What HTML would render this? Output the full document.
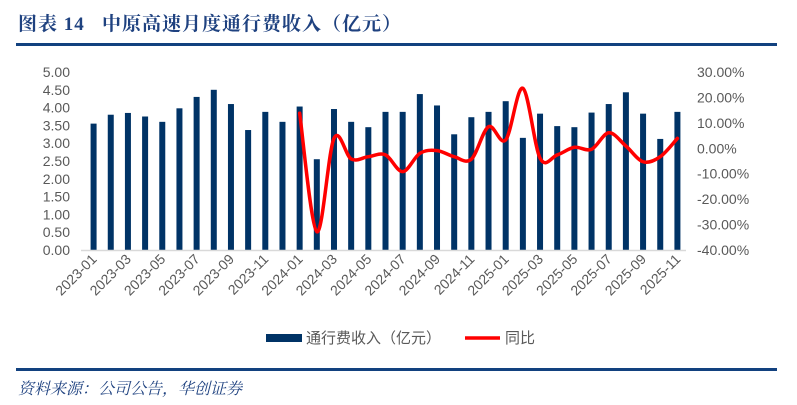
<!DOCTYPE html>
<html><head><meta charset="utf-8"><style>
body{margin:0;width:797px;height:405px;background:#fff;overflow:hidden;position:relative;font-family:"Liberation Sans","Noto Sans CJK SC",sans-serif}
.title{position:absolute;left:18px;top:9px;font-family:"Liberation Serif","Noto Serif CJK SC",serif;font-weight:bold;font-size:19px;color:#1f4280;letter-spacing:1px;white-space:pre}
.rule{position:absolute;left:16px;width:761px;height:3px;background:#12417f}
.src{position:absolute;left:18px;top:376px;font-size:16px;font-style:italic;color:#1f4280;font-family:"Liberation Serif","Noto Serif CJK SC",serif}
svg{position:absolute;left:0;top:0}
</style></head><body>
<div class="title">图表 14   中原高速月度通行费收入（亿元）</div>
<div class="rule" style="top:43px"></div>
<div class="rule" style="top:368px"></div>
<div class="src">资料来源：公司公告，华创证券</div>
<svg id="c" width="797" height="405"></svg>
<script>
const categories=['2023-01','2023-02','2023-03','2023-04','2023-05','2023-06','2023-07','2023-08','2023-09','2023-10','2023-11','2023-12','2024-01','2024-02','2024-03','2024-04','2024-05','2024-06','2024-07','2024-08','2024-09','2024-10','2024-11','2024-12','2025-01','2025-02','2025-03','2025-04','2025-05','2025-06','2025-07','2025-08','2025-09','2025-10','2025-11'];
const revenue=[3.55,3.8,3.85,3.75,3.6,3.98,4.3,4.5,4.1,3.37,3.88,3.6,4.03,2.55,3.96,3.6,3.45,3.88,3.88,4.38,4.06,3.25,3.73,3.88,4.18,3.15,3.83,3.48,3.45,3.86,4.1,4.43,3.83,3.12,3.88];
const yoy=[null,null,null,null,null,null,null,null,null,null,null,null,13.8,-32.8,3.9,-4.2,-3.3,-2.6,-9.2,-2.0,-0.9,-3.3,-4.3,8.5,3.3,23.6,-3.9,-2.6,0.4,-0.4,6.1,0.9,-5.3,-3.3,3.9];
const leftTicks=['0.00','0.50','1.00','1.50','2.00','2.50','3.00','3.50','4.00','4.50','5.00'];
const rightTicks=['-40.00%','-30.00%','-20.00%','-10.00%','0.00%','10.00%','20.00%','30.00%'];

const svg=document.getElementById('c');const NS='http://www.w3.org/2000/svg';
function mk(t,a,p){const e=document.createElementNS(NS,t);for(const k in a)e.setAttribute(k,a[k]);(p||svg).appendChild(e);return e;}
const X0=85,X1=686,Y0=250,Y1=72;
const step=(X1-X0)/categories.length;
const xs=i=>X0+step*(i+0.5);
const yl=v=>Y0-(v/5)*(Y0-Y1);
const yr=v=>Y0-((v+40)/70)*(Y0-Y1);

leftTicks.forEach(t=>{const e=mk('text',{x:70,y:yl(+t)+5,'text-anchor':'end','font-size':14,fill:'#595959'});e.textContent=t;

});
rightTicks.forEach(t=>{const v=parseFloat(t);const e=mk('text',{x:697,y:yr(v)+5,'font-size':14,fill:'#595959'});e.textContent=t;

});

revenue.forEach((v,i)=>{const r=mk('rect',{x:xs(i)-3,y:yl(v),width:6,height:Y0-yl(v),fill:'#003366'});

});
const ax=mk('line',{x1:X0-4,x2:X1,y1:Y0+0.5,y2:Y0+0.5,stroke:'#d9d9d9','stroke-width':1.5});



categories.forEach((c,i)=>{if(i%2)return;const x=xs(i)+4,y=Y0+10;
const e=mk('text',{x:x,y:y,'text-anchor':'end','font-size':14,fill:'#595959',transform:`rotate(-45 ${x} ${y})`});e.textContent=c;

});

const pts=[];yoy.forEach((v,i)=>{if(v!==null)pts.push([xs(i),yr(v)]);});
let d='M'+pts[0][0]+','+pts[0][1];
for(let i=0;i<pts.length-1;i++){const p0=pts[Math.max(0,i-1)],p1=pts[i],p2=pts[i+1],p3=pts[Math.min(pts.length-1,i+2)];
const c1=[p1[0]+(p2[0]-p0[0])/6,p1[1]+(p2[1]-p0[1])/6],c2=[p2[0]-(p3[0]-p1[0])/6,p2[1]-(p3[1]-p1[1])/6];
d+=`C${c1[0]},${c1[1]} ${c2[0]},${c2[1]} ${p2[0]},${p2[1]}`;}
const ln=mk('path',{d:d,fill:'none',stroke:'#ff0000','stroke-width':3.5,'stroke-linecap':'round'});



const g=mk('g',{});
const l1=mk('rect',{x:266,y:334,width:36,height:8,fill:'#003366'},g);


const t1=mk('text',{x:306,y:343,'font-size':15,fill:'#595959'},g);t1.textContent='通行费收入（亿元）';


const l2=mk('line',{x1:465,x2:500,y1:338,y2:338,stroke:'#ff0000','stroke-width':3.5},g);


const t2=mk('text',{x:505,y:343,'font-size':15,fill:'#595959'},g);t2.textContent='同比';


</script>
</body></html>
